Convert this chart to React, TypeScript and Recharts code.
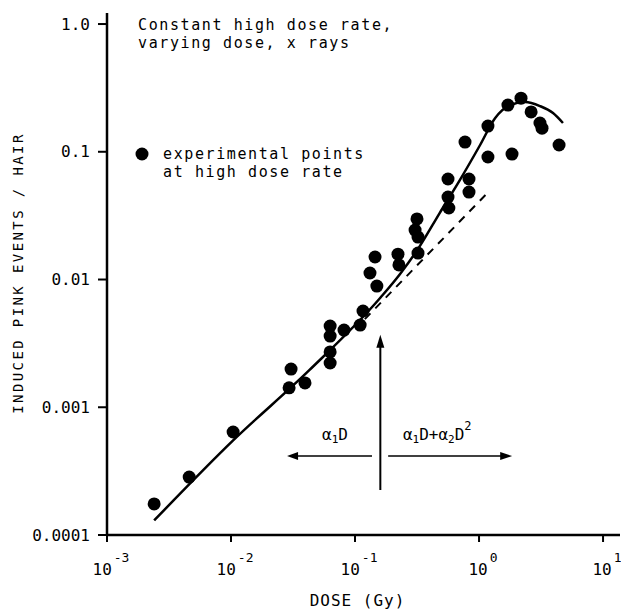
import React from 'react';
import {
  ComposedChart,
  XAxis,
  YAxis,
  Line,
  Scatter,
  ReferenceLine,
  ReferenceDot,
} from 'recharts';

const FONT = '"DejaVu Sans Mono", "Liberation Mono", monospace';

// experimental points at high dose rate (dose in Gy, induced pink events / hair)
const pointDose = [
  0.0024, 0.0046, 0.0104, 0.0305, 0.0294, 0.0395, 0.063, 0.063, 0.063, 0.063,
  0.0815, 0.11, 0.116, 0.15, 0.132, 0.145, 0.222, 0.226, 0.322, 0.316, 0.305,
  0.322, 0.562, 0.562, 0.571, 0.83, 0.83, 0.771, 1.18, 1.845, 1.18, 1.71, 2.18,
  2.63, 3.1, 3.22, 4.42,
];
const pointPink = [
  0.000175, 0.000284, 0.00064, 0.00199, 0.00142, 0.00155, 0.00432, 0.00361,
  0.00271, 0.00222, 0.00402, 0.0044, 0.00567, 0.00889, 0.01125, 0.015, 0.0158,
  0.013, 0.0161, 0.0298, 0.0244, 0.0215, 0.0612, 0.0442, 0.0363, 0.0612,
  0.0484, 0.119, 0.091, 0.096, 0.159, 0.232, 0.263, 0.205, 0.168, 0.153, 0.113,
];

// fitted curve (solid)
const curveDose = [
  0.0024, 0.0104, 0.043, 0.16, 0.23, 0.33, 0.48, 0.7, 1.02, 1.35, 1.78, 2.35,
  3.1, 3.95, 4.75,
];
const curvePink = [
  0.00013, 0.00055, 0.00196, 0.0072, 0.011, 0.018, 0.033, 0.06, 0.113, 0.184,
  0.232, 0.245, 0.228, 0.201, 0.168,
];

// linear term alone (dashed)
const linearDose = [0.12, 1.18];
const linearPink = [0.0049, 0.048];

const doseTicks = [0.001, 0.01, 0.1, 1, 10];
const doseTickExponents = ['-3', '-2', '-1', '0', '1'];
const pinkTicks = [0.0001, 0.001, 0.01, 0.1, 1];
const pinkTickLabels = ['0.0001', '0.001', '0.01', '0.1', '1.0'];

const points = pointDose.map((d, i) => ({ dose: d, pink: pointPink[i] }));
const curve = curveDose.map((d, i) => ({ dose: d, pink: curvePink[i] }));
const linear = linearDose.map((d, i) => ({ dose: d, pink: linearPink[i] }));

const DoseTick = (props: any) => {
  const { x, y, payload } = props;
  const i = doseTicks.indexOf(payload.value);
  return (
    <text x={x + 4} y={y + 31} textAnchor="middle" fontFamily={FONT} fontSize={16} fill="#000">
      10
      <tspan dx={2} dy={-13} fontSize={13}>
        {doseTickExponents[i]}
      </tspan>
    </text>
  );
};

const Dot = (p: any) => <circle cx={p.cx} cy={p.cy} r={6.5} fill="#000" />;

// little arrow heads for the annotation arrows
const head = (dir: 'left' | 'right' | 'up') => (p: any) => {
  const { cx, cy } = p;
  let pts = '';
  if (dir === 'left') pts = `${cx},${cy} ${cx + 11},${cy - 4} ${cx + 11},${cy + 4}`;
  if (dir === 'right') pts = `${cx},${cy} ${cx - 12},${cy - 4} ${cx - 12},${cy + 4}`;
  if (dir === 'up') pts = `${cx},${cy} ${cx - 4},${cy + 13} ${cx + 4},${cy + 13}`;
  return <polygon points={pts} fill="#000" />;
};

const textAt = (content: React.ReactNode) => (p: any) => (
  <text x={p.cx} y={p.cy} textAnchor="middle" fontFamily={FONT} fontSize={16} fill="#000">
    {content}
  </text>
);

const App = () => {
  return (
    <div style={{ position: 'absolute', left: 0, top: 0, background: '#fff' }}>
      <ComposedChart
        width={621}
        height={612}
        margin={{ top: 13, right: 1, left: 0, bottom: 0 }}
      >
        <XAxis
          dataKey="dose"
          type="number"
          scale="log"
          domain={[0.001, 13.7]}
          allowDataOverflow
          ticks={doseTicks}
          tick={<DoseTick />}
          tickSize={7}
          height={77}
          axisLine={{ stroke: '#000', strokeWidth: 2.5 }}
          tickLine={{ stroke: '#000', strokeWidth: 2 }}
          label={{
            value: 'DOSE (Gy)',
            position: 'insideBottom',
            offset: 6,
            dx: -6,
            style: { fontFamily: FONT, fontSize: 16, fill: '#000', letterSpacing: 1 },
          }}
        />
        <YAxis
          dataKey="pink"
          type="number"
          scale="log"
          domain={[0.0001, 1.22]}
          allowDataOverflow
          ticks={pinkTicks}
          tickFormatter={(v: number) => pinkTickLabels[pinkTicks.indexOf(v)]}
          width={107}
          tickSize={9}
          tickMargin={8}
          tick={{ fontFamily: FONT, fontSize: 16, fill: '#000' }}
          axisLine={{ stroke: '#000', strokeWidth: 2.5 }}
          tickLine={{ stroke: '#000', strokeWidth: 2 }}
          label={{
            content: () => (
              <text
                x={23}
                y={273}
                transform="rotate(-90 23 273)"
                textAnchor="middle"
                fontFamily={FONT}
                fontSize={14}
                letterSpacing={2.4}
                fill="#000"
              >
                INDUCED PINK EVENTS / HAIR
              </text>
            ),
          }}
        />

        <Line
          data={linear}
          dataKey="pink"
          stroke="#000"
          strokeWidth={2}
          strokeDasharray="8 7"
          dot={false}
          activeDot={false}
          isAnimationActive={false}
        />
        <Line
          data={curve}
          dataKey="pink"
          type="monotone"
          stroke="#000"
          strokeWidth={2.5}
          dot={false}
          activeDot={false}
          isAnimationActive={false}
        />
        <Scatter data={points} dataKey="pink" shape={<Dot />} isAnimationActive={false} />

        {/* alpha1 D / alpha1 D + alpha2 D^2 annotation */}
        <ReferenceLine
          segment={[{ x: 0.16, y: 0.000225 }, { x: 0.16, y: 0.0033 }]}
          stroke="#000"
          strokeWidth={2}
        />
        <ReferenceDot x={0.16} y={0.0037} shape={head('up')} />
        <ReferenceLine
          segment={[{ x: 0.137, y: 0.000415 }, { x: 0.031, y: 0.000415 }]}
          stroke="#000"
          strokeWidth={1.5}
        />
        <ReferenceDot x={0.0283} y={0.000415} shape={head('left')} />
        <ReferenceLine
          segment={[{ x: 0.185, y: 0.000415 }, { x: 1.7, y: 0.000415 }]}
          stroke="#000"
          strokeWidth={1.5}
        />
        <ReferenceDot x={1.85} y={0.000415} shape={head('right')} />
        <ReferenceDot
          x={0.069}
          y={0.00055}
          shape={textAt(
            <>
              α<tspan dy={3} fontSize={11}>1</tspan>
              <tspan dy={-3}>D</tspan>
            </>
          )}
        />
        <ReferenceDot
          x={0.46}
          y={0.00055}
          shape={textAt(
            <>
              α<tspan dy={3} fontSize={11}>1</tspan>
              <tspan dy={-3}>D+α</tspan>
              <tspan dy={3} fontSize={11}>2</tspan>
              <tspan dy={-3}>D</tspan>
              <tspan dy={-10} fontSize={12}>2</tspan>
            </>
          )}
        />

        {/* title and legend */}
        <text x={138} y={30} fontFamily={FONT} fontSize={15} letterSpacing={1.6} fill="#000">
          Constant high dose rate,
        </text>
        <text x={138} y={48} fontFamily={FONT} fontSize={15} letterSpacing={1.6} fill="#000">
          varying dose, x rays
        </text>
        <circle cx={142} cy={154} r={6.5} fill="#000" />
        <text x={163} y={159} fontFamily={FONT} fontSize={15} letterSpacing={1.6} fill="#000">
          experimental points
        </text>
        <text x={163} y={177} fontFamily={FONT} fontSize={15} letterSpacing={1.6} fill="#000">
          at high dose rate
        </text>
      </ComposedChart>
    </div>
  );
};

export default App;
